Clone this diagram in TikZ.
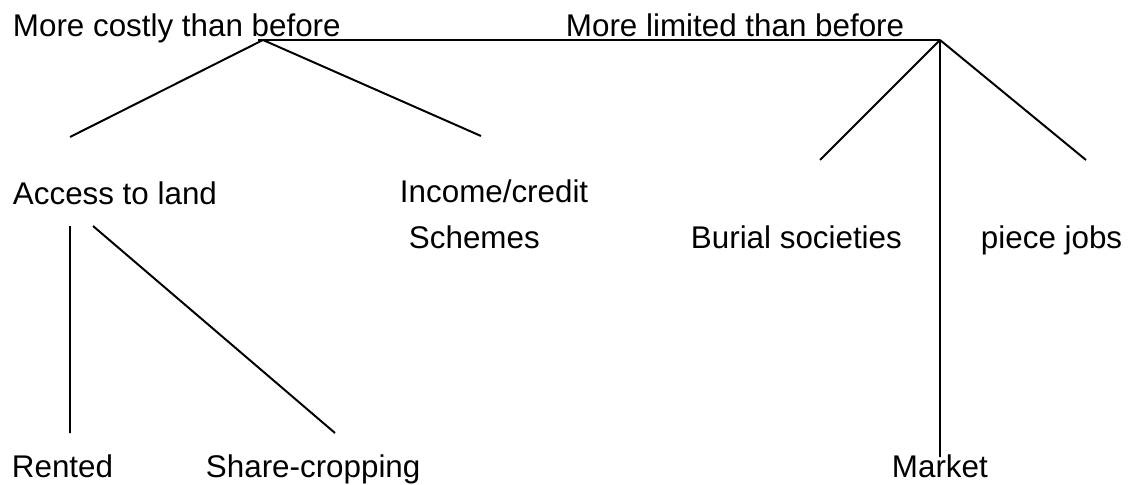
\documentclass[tikz,border=0pt]{standalone}
\usepackage{fontspec}
\setmainfont{Liberation Sans}
\begin{document}
\begin{tikzpicture}[x=0.025cm,y=-0.025cm,line width=1.4pt,
  every node/.style={inner sep=0pt,anchor=base west,font=\fontsize{22.3}{27}\selectfont}]
\useasboundingbox (0,0) rectangle (1130,485);
% headings
\node (costly) at (12,37) {More costly than before};
\node (limited) at (565,37) {More limited than before};
% second row
\node (access) at (12,204) {Access to land};
\node (income) at (399,203) {Income/credit};
\node (schemes) at (408,248) {Schemes};
\node (burial) at (690,248) {Burial societies};
\node (piece) at (980,248) {piece jobs};
% bottom row
\node (rented) at (11,477) {Rented};
\node (share) at (205,477) {Share-cropping};
\node (market) at (891,477) {Market};
% forks and loose ends
\coordinate (underline) at (258,40);
\coordinate (costlyfork) at (263,40);
\coordinate (limitedfork) at (940,40);
\coordinate (accesstop) at (70,137);
\coordinate (incometop) at (481,136);
\coordinate (burialtop) at (820,160);
\coordinate (piecetop) at (1086,160);
\coordinate (markettop) at (940,457);
\coordinate (rentedfoot) at (70,226);
\coordinate (rentedtop) at (70,433);
\coordinate (sharefoot) at (93,226);
\coordinate (sharetop) at (335,433);
% costly branch
\draw (underline) -- (limitedfork);
\draw (costlyfork) -- (accesstop)
      (costlyfork) -- (incometop);
% limited branch
\draw (limitedfork) -- (burialtop)
      (limitedfork) -- (piecetop)
      (limitedfork) -- (markettop);
% land
\draw (rentedfoot) -- (rentedtop)
      (sharefoot) -- (sharetop);
\end{tikzpicture}
\end{document}
